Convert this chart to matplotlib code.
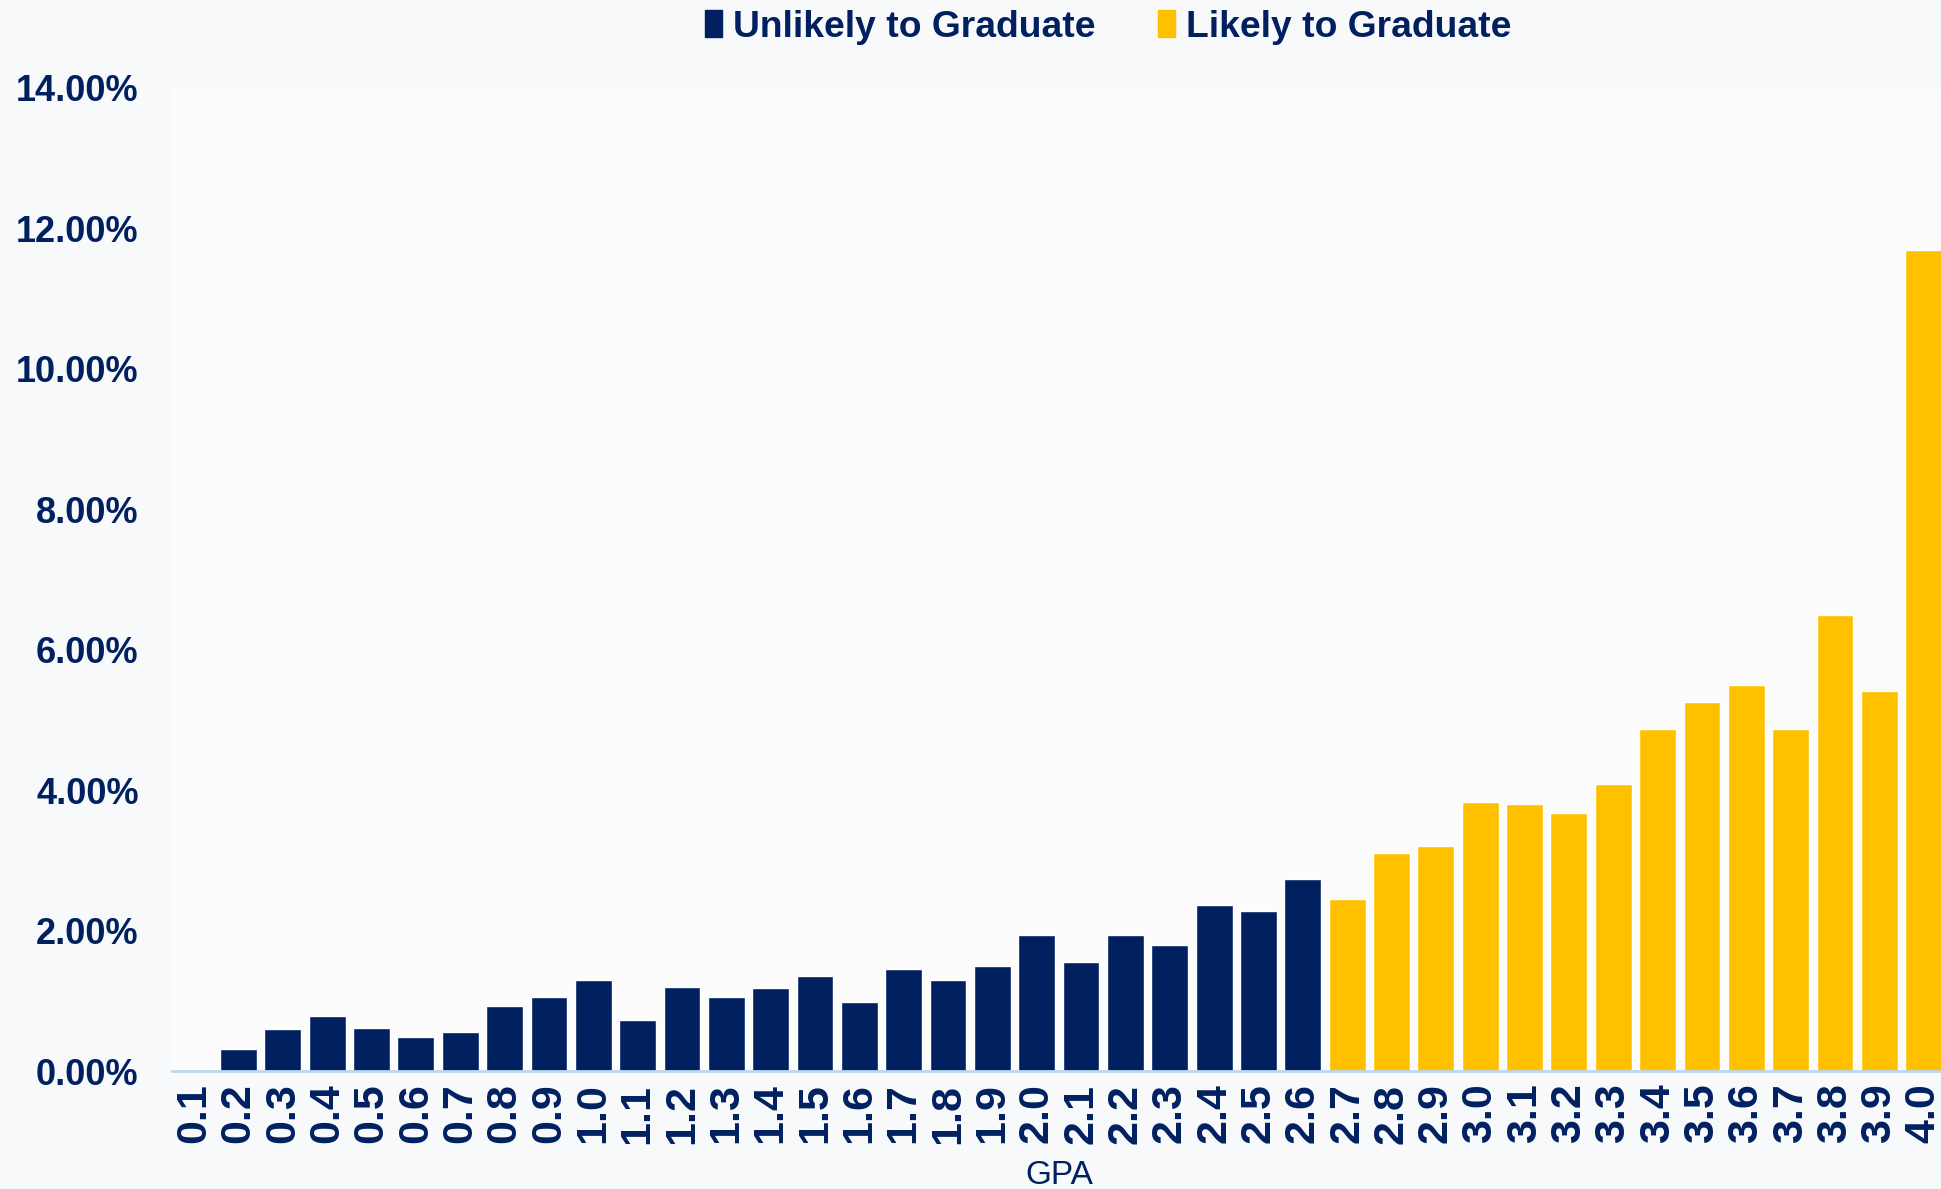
import matplotlib.pyplot as plt
from matplotlib.patches import Patch
from matplotlib.ticker import PercentFormatter

plt.rcParams['font.family'] = ['Liberation Sans', 'DejaVu Sans']

navy = '#002060'
gold = '#FFC000'

# GPA buckets and share of students (%)
gpa = ['0.1', '0.2', '0.3', '0.4', '0.5', '0.6', '0.7', '0.8', '0.9', '1.0',
       '1.1', '1.2', '1.3', '1.4', '1.5', '1.6', '1.7', '1.8', '1.9', '2.0',
       '2.1', '2.2', '2.3', '2.4', '2.5', '2.6', '2.7', '2.8', '2.9', '3.0',
       '3.1', '3.2', '3.3', '3.4', '3.5', '3.6', '3.7', '3.8', '3.9', '4.0']
share = [0.01, 0.32, 0.60, 0.78, 0.62, 0.49, 0.55, 0.93, 1.06, 1.30,
         0.72, 1.20, 1.06, 1.18, 1.36, 0.99, 1.46, 1.29, 1.50, 1.94,
         1.55, 1.94, 1.80, 2.36, 2.28, 2.73, 2.45, 3.10, 3.21, 3.83,
         3.81, 3.67, 4.09, 4.87, 5.26, 5.50, 4.87, 6.49, 5.41, 11.69]
cutoff = '2.7'  # first bucket that is likely to graduate

colors = [gold if float(g) >= float(cutoff) else navy for g in gpa]

fig = plt.figure(figsize=(19.41, 11.89), dpi=100, facecolor='#f8f9fa')
ax = fig.add_axes([0.0886, 0.0992, 0.9139, 0.8268])
ax.set_facecolor('#fcfcfd')

x = range(len(gpa))
ax.bar(x, share, width=0.83, color=colors, edgecolor='white', linewidth=1)

ax.set_xlim(-0.5, len(gpa) - 0.5)
ax.set_ylim(0, 14)
ax.set_yticks(range(0, 15, 2))
ax.yaxis.set_major_formatter(PercentFormatter(decimals=2))
ax.set_xticks(list(x))
ax.set_xticklabels(gpa, rotation=90)

for s in ['top', 'right', 'left']:
    ax.spines[s].set_visible(False)
ax.spines['bottom'].set_color('#bdd7ee')
ax.spines['bottom'].set_linewidth(2)

ax.tick_params(axis='y', length=0, pad=24, labelsize=26, labelcolor=navy)
ax.tick_params(axis='x', length=0, pad=9, labelsize=31, labelcolor=navy)
for lab in ax.get_xticklabels() + ax.get_yticklabels():
    lab.set_fontweight('bold')

ax.set_xlabel('GPA', fontsize=24, color=navy, labelpad=12)

handles = [Patch(color=navy, label='Unlikely to Graduate'),
           Patch(color=gold, label='Likely to Graduate')]
fig.legend(handles=handles, loc='center', bbox_to_anchor=(0.571, 0.977),
           ncol=2, frameon=False, handlelength=0.45, handleheight=0.75,
           handletextpad=0.3, columnspacing=1.67,
           prop={'size': 26.8, 'weight': 'bold'}, labelcolor=navy)

fig.savefig('out.png', dpi=100, facecolor=fig.get_facecolor())
